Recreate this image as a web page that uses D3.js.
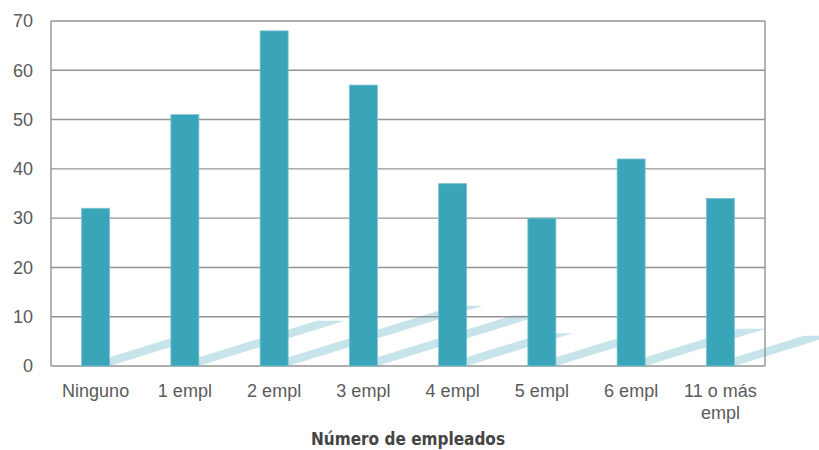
<!DOCTYPE html>
<html>
<head>
<meta charset="utf-8">
<script src="https://cdn.jsdelivr.net/npm/d3@7/dist/d3.min.js"></script>
<style>
  html, body { margin: 0; padding: 0; background: #ffffff; }
  svg { display: block; }
</style>
</head>
<body>
<svg id="chart" width="819" height="450"></svg>
<script>
// Empresas según número de empleados
const categories = ["Ninguno", "1 empl", "2 empl", "3 empl", "4 empl", "5 empl", "6 empl", "11 o más empl"];
const values = [32, 51, 68, 57, 37, 30, 42, 34];
const yTicks = [0, 10, 20, 30, 40, 50, 60, 70];
const xTitle = "Número de empleados";

const W = 819, H = 450;
const margin = { top: 21, right: 54, bottom: 84, left: 51 };
const plotW = W - margin.left - margin.right;
const plotH = H - margin.top - margin.bottom;

const svg = d3.select("#chart");
const g = svg.append("g").attr("transform", `translate(${margin.left},${margin.top})`);

const x = d3.scaleBand().domain(categories).range([0, plotW]).paddingInner(0.686).paddingOuter(0.343);
const y = d3.scaleLinear().domain([0, 70]).range([plotH, 0]);

const gridColor = "#939393";
const labelColor = "#5a5a5a";

// floor shadows cast by each bar (drawn first, behind everything)
const shadowRise = 0.18;   // shadow height as share of bar height
const shadowSlope = 0.31;  // rise over run of the shadow
g.append("g")
  .selectAll("path")
  .data(values)
  .join("path")
  .attr("fill", "#c6e4ea")
  .attr("d", (v, i) => {
    const x0 = x(categories[i]);
    const w = x.bandwidth();
    const y0 = y(0);
    const dy = (y(0) - y(v)) * shadowRise;
    const dx = dy / shadowSlope;
    return `M${x0},${y0}L${x0 + w},${y0}L${x0 + w + dx},${y0 - dy}L${x0 + dx},${y0 - dy}Z`;
  });

// horizontal gridlines
g.append("g")
  .selectAll("line")
  .data(yTicks)
  .join("line")
  .attr("x1", 0).attr("x2", plotW)
  .attr("y1", d => y(d)).attr("y2", d => y(d))
  .attr("stroke", gridColor)
  .attr("stroke-width", 1.4);

// frame sides
g.append("line").attr("x1", 0).attr("x2", 0).attr("y1", 0).attr("y2", plotH)
  .attr("stroke", gridColor).attr("stroke-width", 1.4);
g.append("line").attr("x1", plotW).attr("x2", plotW).attr("y1", 0).attr("y2", plotH)
  .attr("stroke", gridColor).attr("stroke-width", 1.4);

// bars
g.append("g")
  .selectAll("rect")
  .data(values)
  .join("rect")
  .attr("x", (v, i) => x(categories[i]))
  .attr("y", v => y(v))
  .attr("width", x.bandwidth())
  .attr("height", v => y(0) - y(v))
  .attr("fill", "#3aa5b9")
  .attr("stroke", "#7cc3d0")
  .attr("stroke-width", 0.8);

// y axis labels
const yAxis = d3.axisLeft(y).tickValues(yTicks).tickSize(0).tickPadding(18);
const ya = g.append("g").call(yAxis);
ya.select(".domain").remove();
ya.selectAll("text")
  .attr("font-family", "'Liberation Sans', Arial, sans-serif")
  .attr("font-size", 18)
  .attr("fill", labelColor);

// x axis labels (wrap the long one onto two lines)
const xAxis = d3.axisBottom(x).tickSize(0).tickPadding(0);
const xa = g.append("g").attr("transform", `translate(0,${plotH})`).call(xAxis);
xa.select(".domain").remove();
xa.selectAll("text")
  .attr("font-family", "'Liberation Sans', Arial, sans-serif")
  .attr("font-size", 18)
  .attr("fill", labelColor)
  .attr("y", 31)
  .attr("dy", 0)
  .each(function (d) {
    const t = d3.select(this);
    if (d === "11 o más empl") {
      t.text(null);
      t.append("tspan").attr("x", 0).attr("dy", 0).text("11 o más");
      t.append("tspan").attr("x", 0).attr("dy", 21.5).text("empl");
    }
  });

// x axis title
svg.append("text")
  .attr("x", margin.left + plotW / 2)
  .attr("y", 445)
  .attr("text-anchor", "middle")
  .attr("font-family", "'DejaVu Sans Condensed', 'Liberation Sans', sans-serif")
  .attr("font-weight", "bold")
  .attr("font-size", 18)
  .attr("textLength", 194)
  .attr("lengthAdjust", "spacingAndGlyphs")
  .attr("fill", "#444444")
  .text(xTitle);
</script>
</body>
</html>
